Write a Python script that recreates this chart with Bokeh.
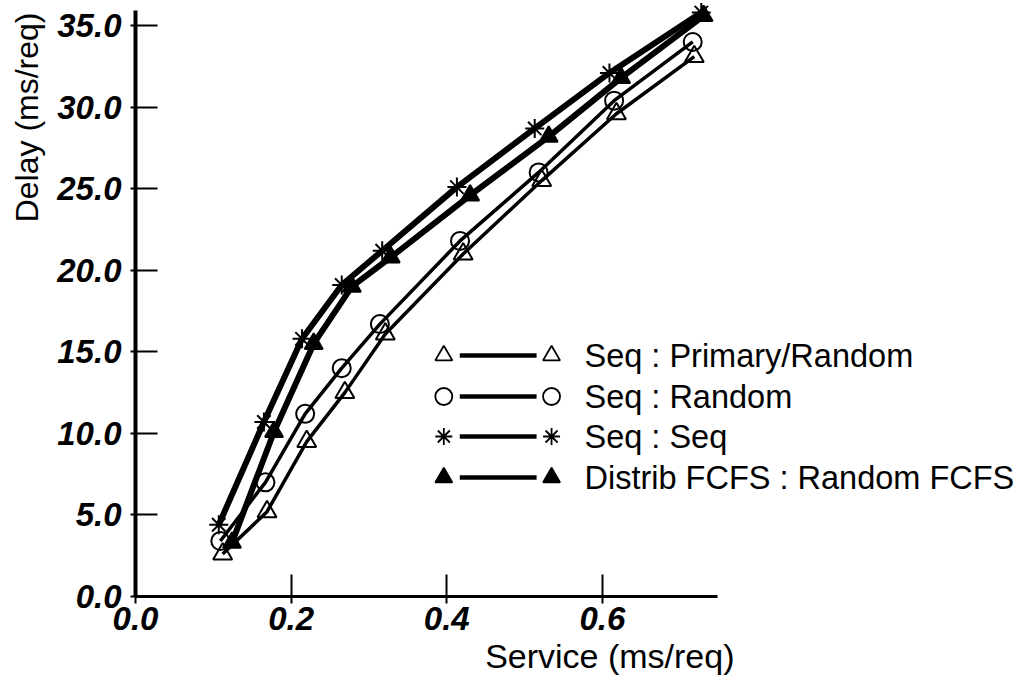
from bokeh.plotting import figure
from bokeh.models import Range1d, PrintfTickFormatter, Title
from bokeh.core.properties import value
from bokeh.embed import file_html
from bokeh.resources import INLINE

# ---- data ----
x_prim = [0.112, 0.169, 0.220, 0.269, 0.321, 0.421, 0.522, 0.618, 0.718]
y_prim = [2.6, 5.2, 9.5, 12.5, 16.1, 21.0, 25.5, 29.6, 33.1]

x_rand = [0.109, 0.167, 0.218, 0.265, 0.314, 0.417, 0.518, 0.615, 0.716]
y_rand = [3.4, 7.0, 11.2, 14.0, 16.7, 21.8, 26.0, 30.4, 34.0]

x_seq = [0.107, 0.165, 0.214, 0.265, 0.317, 0.413, 0.513, 0.609, 0.727]
y_seq = [4.4, 10.7, 15.8, 19.1, 21.2, 25.1, 28.7, 32.1, 35.8]

x_fcfs = [0.124, 0.178, 0.229, 0.278, 0.328, 0.430, 0.531, 0.624, 0.730]
y_fcfs = [3.3, 10.1, 15.5, 19.0, 20.8, 24.6, 28.2, 31.8, 35.6]

series_names = ["Seq : Primary/Random", "Seq : Random", "Seq : Seq",
                "Distrib FCFS : Random FCFS"]
x_ticks = [0.0, 0.2, 0.4, 0.6]
y_ticks = [0.0, 5.0, 10.0, 15.0, 20.0, 25.0, 30.0, 35.0]
x_title = "Service (ms/req)"
y_title = "Delay (ms/req)"

# ---- layout ----
W, H = 1016, 680
BL, BB = 133, 84           # left / bottom borders (canvas px)
PX_X, PX_Y = 780.0, 16.31   # pixels per data unit
X_AXIS_END, Y_AXIS_END = 0.7474, 35.93
FONT = "Liberation Sans"

p = figure(width=W, height=H,
           x_range=Range1d(0, (W - BL) / PX_X),
           y_range=Range1d(0, (H - BB) / PX_Y),
           output_backend="svg", toolbar_location=None,
           min_border_left=BL, min_border_right=0,
           min_border_top=0, min_border_bottom=BB)
p.outline_line_color = None
p.xgrid.visible = False
p.ygrid.visible = False
p.background_fill_color = "white"
p.border_fill_color = "white"

p.xaxis.bounds = (0, X_AXIS_END)
p.yaxis.bounds = (0, Y_AXIS_END)
for ax, ticks, lw, tin, tout, so in ((p.xaxis, x_ticks, 3, 22, 7, 3),
                                     (p.yaxis, y_ticks, 4, 22, 5, 9)):
    ax.ticker = ticks
    ax.formatter = PrintfTickFormatter(format="%.1f")
    ax.axis_line_width = lw
    ax.axis_line_color = "black"
    ax.major_tick_line_width = 2
    ax.major_tick_line_color = "black"
    ax.major_tick_in = tin
    ax.major_tick_out = tout
    ax.minor_tick_line_color = None
    ax.major_label_standoff = so
    ax.major_label_text_font = FONT
    ax.major_label_text_font_style = "bold italic"
    ax.major_label_text_font_size = "33px"
    ax.major_label_text_color = "black"

# screen px -> data helpers for placing the hand-drawn legend
def dx(px):
    return (px - BL) / PX_X
def dy(py):
    return (H - BB - py) / PX_Y

# ---- series ----
styles = [
    dict(x=x_prim, y=y_prim, marker="triangle", fill=None, lw=3.5, size=19),
    dict(x=x_rand, y=y_rand, marker="circle", fill=None, lw=3.5, size=18),
    dict(x=x_seq, y=y_seq, marker="asterisk", fill=None, lw=6, size=19),
    dict(x=x_fcfs, y=y_fcfs, marker="triangle", fill="black", lw=6, size=18),
]
for s in styles:
    p.line(s["x"], s["y"], line_color="black", line_width=s["lw"])
for s in styles:
    p.scatter(s["x"], s["y"], marker=s["marker"], size=s["size"],
              line_color="black", line_width=2,
              fill_color=s["fill"] if s["fill"] else "white",
              fill_alpha=1.0 if s["fill"] else 0.0)

# ---- legend (marker — line — marker  text) ----
row_py = [355, 396, 436, 477]
mk_l, ln_l, ln_r, mk_r, txt_px = 442, 458, 535, 550, 583
for s, name, py in zip(styles, series_names, row_py):
    yy = dy(py)
    p.segment(x0=[dx(ln_l)], y0=[yy], x1=[dx(ln_r)], y1=[yy],
              line_color="black", line_width=4.5)
    p.scatter([dx(mk_l), dx(mk_r)], [yy, yy], marker=s["marker"], size=17,
              line_color="black", line_width=1.8,
              fill_color=s["fill"] if s["fill"] else "white",
              fill_alpha=1.0 if s["fill"] else 0.0)
    p.text(x=[dx(txt_px)], y=[yy], text=[name], text_font=value(FONT),
           text_font_size="32.5px", text_baseline="middle", text_align="left",
           text_color="black")

# ---- axis titles (side titles so they can sit off-centre) ----
p.add_layout(Title(text=x_title, align="right", offset=W - 734,
                   text_font=FONT, text_font_size="34px",
                   text_font_style="normal", text_color="black",
                   standoff=4), "below")
p.add_layout(Title(text=y_title, align="right", offset=12,
                   text_font=FONT, text_font_size="32px",
                   text_font_style="normal", text_color="black",
                   vertical_align="top", standoff=16), "left")

open("out.html", "w").write(file_html(p, INLINE))
